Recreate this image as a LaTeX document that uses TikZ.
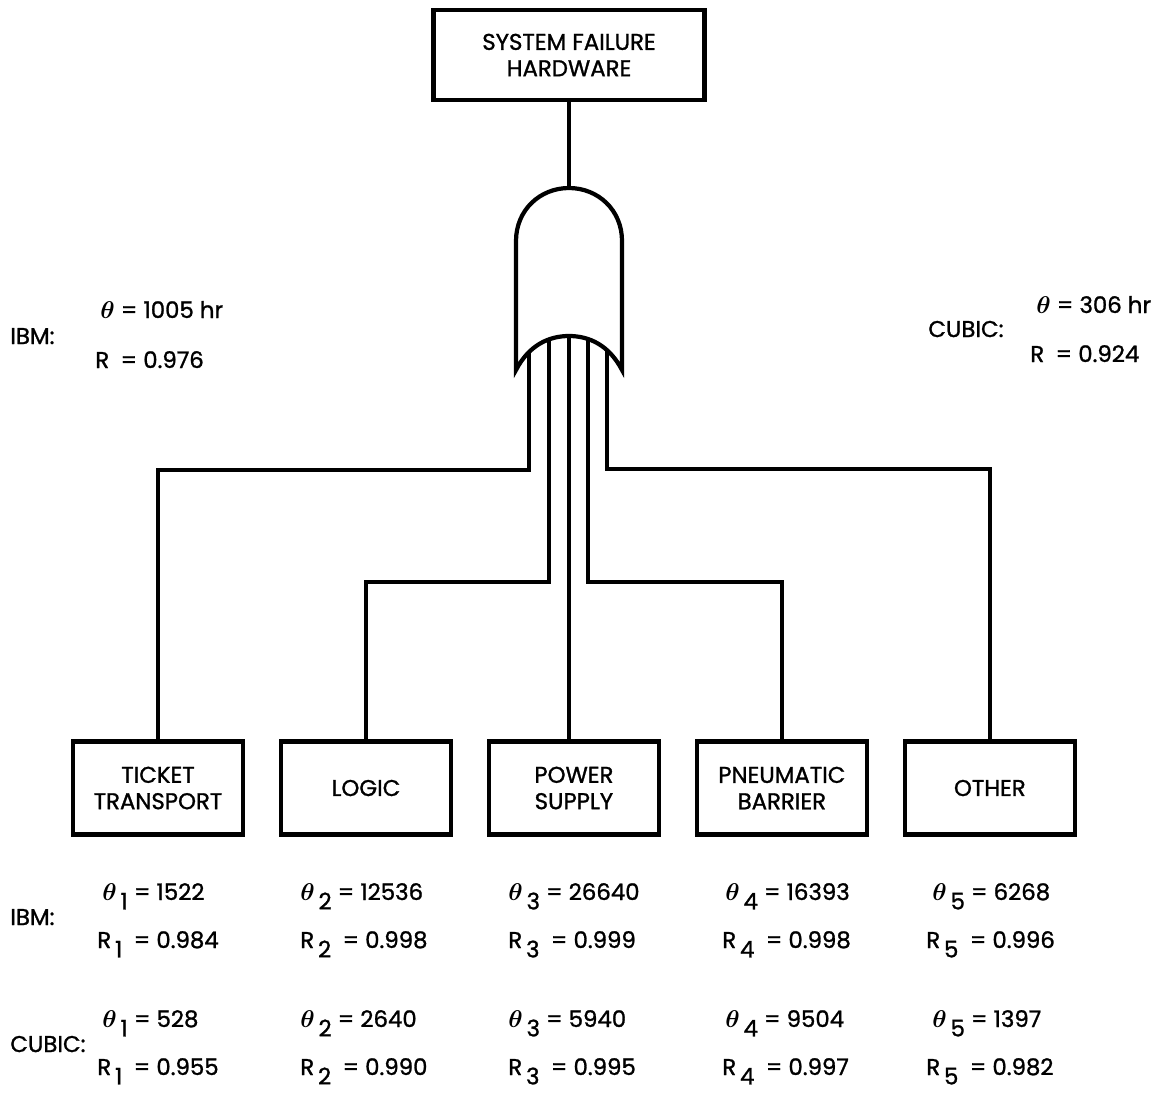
\documentclass[tikz,border=0pt]{standalone}
\usepackage{fontspec}
\usepackage{bm}
\setmainfont{Poppins}[FakeBold=1.2]
\usetikzlibrary{positioning}

\newcommand{\lowsub}[1]{\raisebox{-0.75ex}{#1}}
\newcommand{\thet}{\scalebox{1.15}{$\bm{\theta}$}}

\begin{document}
\begin{tikzpicture}[x=0.02cm, y=-0.02cm, node distance={4.16cm},
        font=\fontsize{13}{15}\selectfont,
        box/.style = {draw, line width=2.4pt, minimum width=3.4cm, minimum height=1.86cm, align=center},
        wire/.style = {line width=2.4pt},
        stat/.style = {anchor=base west, inner sep=0pt}]
    \useasboundingbox (0,0) rectangle (1158,1116);

    % top event and the gate
    \node[box, minimum width=5.42cm, minimum height=1.8cm] (sys) at (569,55) {SYSTEM FAILURE\\HARDWARE};
    \coordinate (gateout) at (569,188);
    \draw[wire] (516,370) -- (516,241) .. controls (516,210) and (540,188) .. (569,188)
        .. controls (598,188) and (622,210) .. (622,241) -- (622,370)
        .. controls (609,345) and (589,336) .. (569,336)
        .. controls (549,336) and (529,345) .. (516,370) -- cycle;
    \draw[wire] (sys.south) -- (gateout);

    \coordinate (in1) at (529,353);
    \coordinate (in2) at (549,340);
    \coordinate (in3) at (569,336);
    \coordinate (in4) at (588,339);
    \coordinate (in5) at (607,349);

    % basic events
    \node[box] (ticket) at (158,788) {TICKET\\TRANSPORT};
    \node[box] (logic) [right of=ticket] {LOGIC};
    \node[box] (power) [right of=logic] {POWER\\SUPPLY};
    \node[box] (pneu) [right of=power] {PNEUMATIC\\BARRIER};
    \node[box] (other) [right of=pneu] {OTHER};

    \draw[wire] (in1) -- (in1 |- 0,470) -| (ticket.north);
    \draw[wire] (in2) -- (in2 |- 0,582) -| (logic.north);
    \draw[wire] (in3) -- (in3 |- power.north);
    \draw[wire] (in4) -- (in4 |- 0,582) -| (pneu.north);
    \draw[wire] (in5) -- (in5 |- 0,469) -| (other.north);

    % system figures
    \node[stat] (ibmtop) at (10,344) {IBM:};
    \node[stat] (ibmth) at (100,318) {\thet{} = 1005 hr};
    \node[stat] (ibmr) at (95,368) {R\enspace = 0.976};
    \node[stat] (cubtop) at (928,337) {CUBIC:};
    \node[stat] (cubth) at (1036,313) {\thet{} = 306 hr};
    \node[stat] (cubr) at (1030,362) {R\enspace = 0.924};

    % component figures
    \node[stat] (ibmlab) at (10,925) {IBM:};
    \node[stat] (cublab) at (10,1052) {CUBIC:};
    \foreach \i/\xt/\xr/\ti/\ri/\tc/\rc in {
            1/102/97/1522/0.984/528/0.955,
            2/300/300/12536/0.998/2640/0.990,
            3/508/508/26640/0.999/5940/0.995,
            4/725/722/16393/0.998/9504/0.997,
            5/932/926/6268/0.996/1397/0.982}{
        \node[stat] (ibmth\i) at (\xt,900) {\thet\,\lowsub{\i} = \ti};
        \node[stat] (ibmr\i) at (\xr,948) {R\,\lowsub{\i}\enspace = \ri};
        \node[stat] (cubth\i) at (\xt,1027) {\thet\,\lowsub{\i} = \tc};
        \node[stat] (cubr\i) at (\xr,1075) {R\,\lowsub{\i}\enspace = \rc};
    }
\end{tikzpicture}
\end{document}
